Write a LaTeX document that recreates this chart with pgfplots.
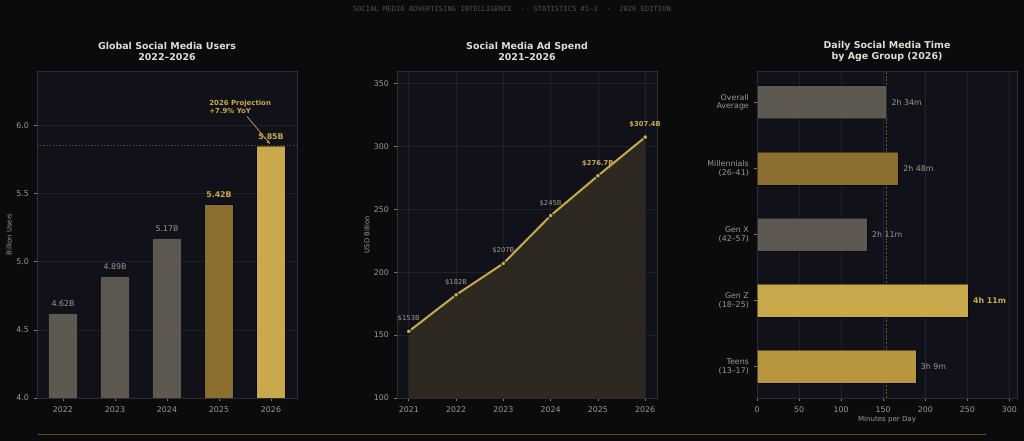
\documentclass[border=0pt]{standalone}
\usepackage{pgfplots}
\pgfplotsset{compat=1.18}
\usetikzlibrary{arrows.meta}
\usepackage{fontspec}
\setmainfont{DejaVu Sans}
\newfontfamily\monofont{DejaVu Sans Mono}
\definecolor{figbg}{HTML}{0B0B0E}
\definecolor{axbg}{HTML}{111219}
\definecolor{axline}{HTML}{2A2C36}
\definecolor{gridc}{HTML}{20222B}
\definecolor{graybar}{HTML}{5D5850}
\definecolor{goldd}{HTML}{8B6E30}
\definecolor{goldb}{HTML}{C9A94C}
\definecolor{goldt}{HTML}{B8953F}
\definecolor{txt}{HTML}{9C9992}
\definecolor{titlec}{HTML}{E0DCD2}
\definecolor{areaf}{HTML}{2D2921}
\definecolor{golddim}{HTML}{4A4130}
\definecolor{hdr}{HTML}{505054}
\definecolor{botline}{HTML}{5B4B22}

\pgfplotsset{
  darkax/.style={
    scale only axis, width=195pt, height=245.25pt, anchor=south west,
    axis background/.style={fill=axbg},
    axis line style={draw=axline, line width=0.6pt},
    grid style={draw=gridc, line width=0.5pt},
    tick align=outside, tick pos=left, major tick length=2.6pt,
    tick style={draw=txt!80!black, line width=0.5pt},
    ticklabel style={font=\fontsize{5.9}{7}\selectfont, text=txt},
    /pgf/number format/assume math mode=true,
  },
  baropt/.style={bar shift=0pt, draw=black, draw opacity=0.45, line width=0.6pt},
}
\begin{document}
\begin{tikzpicture}
\fill[figbg] (0,0) rectangle (768pt,330.75pt);
\node[font=\monofont\fontsize{5.35}{6}\selectfont, text=hdr] at (384pt,324pt) {SOCIAL MEDIA ADVERTISING INTELLIGENCE\ \ ·\ \ STATISTICS \#1–3\ \ ·\ \ 2026 EDITION};
\node[font=\bfseries\fontsize{7.1}{8.1}\selectfont, text=titlec, align=center] at (125.25pt,292.1pt) {Global Social Media Users\\2022–2026};
\node[font=\bfseries\fontsize{7.1}{8.1}\selectfont, text=titlec, align=center] at (395.25pt,292.1pt) {Social Media Ad Spend\\2021–2026};
\node[font=\bfseries\fontsize{7.1}{8.1}\selectfont, text=titlec, align=center] at (665.25pt,292.1pt) {Daily Social Media Time\\by Age Group (2026)};
\draw[botline, line width=0.6pt] (28.5pt,4.9pt) -- (739.5pt,4.9pt);

% Panel 1
\begin{axis}[darkax, at={(27.75pt,32.25pt)},
  xmin=-0.5, xmax=4.5, ymin=4, ymax=6.4,
  xtick={0,1,2,3,4}, xticklabels={2022,2023,2024,2025,2026},
  ytick={4,4.5,5,5.5,6},
  y tick label style={/pgf/number format/fixed, /pgf/number format/fixed zerofill, /pgf/number format/precision=1},
  ymajorgrids,
  ylabel={Billion Users},
  every axis y label/.style={at={(axis description cs:-0.1077,0.5)}, rotate=90, anchor=center, font=\fontsize{5.1}{6}\selectfont, text=txt},
]
\addplot[golddim, dash pattern=on 1.2pt off 1.2pt, line width=0.7pt] coordinates {(-0.5,5.85)(4.5,5.85)};
\addplot[ybar, bar width=0.55, baropt, fill=graybar,
  nodes near coords={\pgfmathprintnumber[fixed,fixed zerofill,precision=2]{\pgfplotspointmeta}B},
  every node near coord/.append style={font=\fontsize{5.9}{7}\selectfont, text=txt, anchor=south, inner sep=0pt, yshift=4.8pt, opacity=1}]
  coordinates {(0,4.62)(1,4.89)(2,5.17)};
\addplot[ybar, bar width=0.55, baropt, fill=goldd,
  nodes near coords={\pgfmathprintnumber[fixed,fixed zerofill,precision=2]{\pgfplotspointmeta}B},
  every node near coord/.append style={font=\bfseries\fontsize{5.9}{7}\selectfont, text=goldb, anchor=south, inner sep=0pt, yshift=4.8pt}]
  coordinates {(3,5.42)};
\addplot[ybar, bar width=0.55, baropt, fill=goldb,
  nodes near coords={\pgfmathprintnumber[fixed,fixed zerofill,precision=2]{\pgfplotspointmeta}B},
  every node near coord/.append style={font=\bfseries\fontsize{5.9}{7}\selectfont, text=goldb, anchor=south, inner sep=0pt, yshift=4.8pt}]
  coordinates {(4,5.85)};
\node[anchor=west, align=left, inner sep=0pt, font=\bfseries\fontsize{5.2}{6}\selectfont, text=goldb] at (axis cs:2.81,6.139) {2026 Projection\\+7.9\% YoY};
\draw[-{Stealth[length=3pt,width=2.4pt]}, goldb, line width=0.5pt] (axis cs:3.54,6.066) -- (axis cs:3.98,5.865);
\end{axis}

% Panel 2
\begin{axis}[darkax, at={(297.75pt,32.25pt)},
  xmin=2020.75, xmax=2026.25, ymin=100, ymax=360,
  xtick={2021,2022,2023,2024,2025,2026}, ytick={100,150,200,250,300,350},
  x tick label style={/pgf/number format/1000 sep={}},
  xmajorgrids, ymajorgrids,
  ylabel={USD Billion},
  every axis y label/.style={at={(axis description cs:-0.1165,0.5)}, rotate=90, anchor=center, font=\fontsize{5.1}{6}\selectfont, text=txt},
]
\addplot[fill=areaf, draw=none] coordinates {(2021,153)(2022,182)(2023,207)(2024,245)(2025,276.7)(2026,307.4)} \closedcycle;
\addplot[goldb, line width=1.5pt, mark=*, mark size=1.8pt, mark options={fill=goldb, draw=black, line width=0.5pt}]
  coordinates {(2021,153)(2022,182)(2023,207)(2024,245)(2025,276.7)(2026,307.4)};
\addplot[draw=none, mark=none, nodes near coords, point meta=explicit symbolic,
  every node near coord/.append style={font=\fontsize{5.1}{6}\selectfont, text=txt, anchor=south, inner sep=0pt, yshift=7pt}]
  coordinates {(2021,153)[\$153B] (2022,182)[\$182B] (2023,207)[\$207B] (2024,245)[\$245B]};
\addplot[draw=none, mark=none, nodes near coords, point meta=explicit symbolic,
  every node near coord/.append style={font=\bfseries\fontsize{5.1}{6}\selectfont, text=goldb, anchor=south, inner sep=0pt, yshift=7pt}]
  coordinates {(2025,276.7)[\$276.7B] (2026,307.4)[\$307.4B]};
\end{axis}

% Panel 3
\begin{axis}[darkax, at={(567.75pt,32.25pt)},
  xmin=0, xmax=309, ymin=-0.475, ymax=4.475,
  xtick={0,50,100,150,200,250,300}, ytick={0,1,2,3,4},
  yticklabels={{Teens\\(13–17)},{Gen Z\\(18–25)},{Gen X\\(42–57)},{Millennials\\(26–41)},{Overall\\Average}},
  y tick label style={align=right, font=\fontsize{5.9}{6.3}\selectfont},
  xmajorgrids,
  xlabel={Minutes per Day},
  every axis x label/.style={at={(axis description cs:0.5,-0.0673)}, anchor=center, font=\fontsize{5.3}{6}\selectfont, text=txt},
]
\addplot[golddim!80!goldb, dash pattern=on 1.5pt off 1.2pt, line width=0.6pt] coordinates {(154,-0.475)(154,4.475)};
\addplot[xbar, bar width=0.5, baropt, fill=goldt] coordinates {(189,0)};
\addplot[xbar, bar width=0.5, baropt, fill=goldb] coordinates {(251,1)};
\addplot[xbar, bar width=0.5, baropt, fill=graybar] coordinates {(131,2)};
\addplot[xbar, bar width=0.5, baropt, fill=goldd] coordinates {(168,3)};
\addplot[xbar, bar width=0.5, baropt, fill=graybar] coordinates {(154,4)};
\addplot[draw=none, mark=none, nodes near coords, point meta=explicit symbolic,
  every node near coord/.append style={font=\fontsize{5.9}{7}\selectfont, text=txt, anchor=west, inner sep=0pt, xshift=3.5pt}]
  coordinates {(189,0)[3h 9m] (131,2)[2h 11m] (168,3)[2h 48m] (154,4)[2h 34m]};
\addplot[draw=none, mark=none, nodes near coords, point meta=explicit symbolic,
  every node near coord/.append style={font=\bfseries\fontsize{5.9}{7}\selectfont, text=goldb, anchor=west, inner sep=0pt, xshift=3.5pt}]
  coordinates {(251,1)[4h 11m]};
\end{axis}
\end{tikzpicture}
\end{document}
